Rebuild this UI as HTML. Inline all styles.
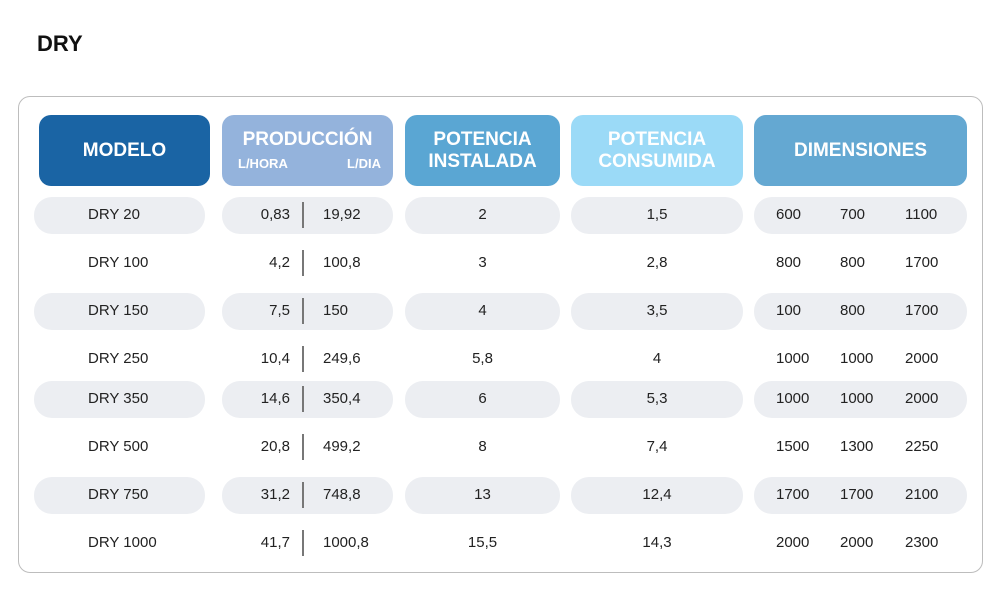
<!DOCTYPE html>
<html><head><meta charset="utf-8"><style>
body{margin:0;width:1000px;height:590px;background:#fff;font-family:"Liberation Sans",sans-serif;position:relative;overflow:hidden}
.a{position:absolute}
.t{font-size:22px;font-weight:bold;left:37px;top:31px;color:#111}
.box{left:18px;top:96px;width:963px;height:475px;border:1.5px solid #bdbdbd;border-radius:12px}
.h{color:#fff;font-weight:bold;font-size:19px;text-align:center;border-radius:12px;display:flex;align-items:center;justify-content:center;line-height:22px;top:115px;height:71px}
.p{background:#eceef2;border-radius:18px;height:37px}
.c{font-size:15px;color:#222;line-height:18px}
.d{width:1.5px;height:26px;background:#777}
</style></head><body>
<div class="a t">DRY</div>
<div class="a box"></div>
<div class="a h" style="left:39px;width:171px;background:#1a64a4">MODELO</div>
<div class="a h" style="left:222px;width:171px;background:#94b3dc;display:block"><div style="margin-top:14px">PRODUCCIÓN</div><div style="font-size:13px;display:flex;justify-content:space-between;padding:0 12px 0 16px;margin-top:2px"><span>L/HORA</span><span>L/DIA</span></div></div>
<div class="a h" style="left:405px;width:155px;background:#5aa6d3">POTENCIA<br>INSTALADA</div>
<div class="a h" style="left:571px;width:172px;background:#9bdaf7">POTENCIA<br>CONSUMIDA</div>
<div class="a h" style="left:754px;width:213px;background:#64a8d2">DIMENSIONES</div>
<div id="rows"></div>
<script>
const models=["DRY 20","DRY 100","DRY 150","DRY 250","DRY 350","DRY 500","DRY 750","DRY 1000"];
const lh=["0,83","4,2","7,5","10,4","14,6","20,8","31,2","41,7"];
const ld=["19,92","100,8","150","249,6","350,4","499,2","748,8","1000,8"];
const pi=["2","3","4","5,8","6","8","13","15,5"];
const pc=["1,5","2,8","3,5","4","5,3","7,4","12,4","14,3"];
const dims=[["600","700","1100"],["800","800","1700"],["100","800","1700"],["1000","1000","2000"],["1000","1000","2000"],["1500","1300","2250"],["1700","1700","2100"],["2000","2000","2300"]];
const ys=[215,263,311,359,399,447,495,543];
const R=document.getElementById('rows');
function mk(cls,st,txt){const e=document.createElement('div');e.className='a '+cls;e.style.cssText=st;if(txt!==undefined)e.textContent=txt;R.appendChild(e);return e;}
models.forEach((m,i)=>{const y=ys[i];
 if(i%2==0){[[34,171],[222,171],[405,155],[571,172],[754,213]].forEach(([x,w])=>{const p=mk('p',`left:${x}px;top:${y-18}px;width:${w}px`);
 
 });}
 let e=mk('c',`left:88px;top:${y-9}px`,m);
 
 
 e=mk('c',`left:230px;width:60px;text-align:right;top:${y-9}px`,lh[i]);
 
 
 e=mk('d',`left:302px;top:${y-13}px`);
 
 
 e=mk('c',`left:323px;top:${y-9}px`,ld[i]);
 
 
 e=mk('c',`left:405px;width:155px;text-align:center;top:${y-9}px`,pi[i]);
 
 
 e=mk('c',`left:571px;width:172px;text-align:center;top:${y-9}px`,pc[i]);
 
 
 [776,840,905].forEach((x,k)=>{e=mk('c',`left:${x}px;top:${y-9}px`,dims[i][k]);
 
 });
});
</script>
</body></html>
